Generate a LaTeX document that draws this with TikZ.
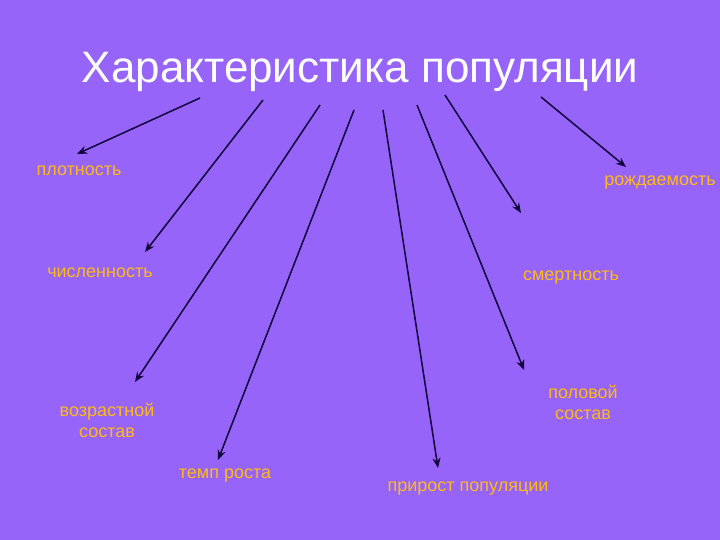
\documentclass[tikz,border=0pt]{standalone}
\usepackage{fontspec}
\setmainfont{Liberation Sans}
\usetikzlibrary{arrows.meta}
\definecolor{bg}{RGB}{150,100,248}
\definecolor{lbl}{RGB}{255,185,20}
\definecolor{arr}{RGB}{20,0,60}
\begin{document}
\begin{tikzpicture}[x=1pt,y=-1pt,
  lab/.style={text=lbl,font=\fontsize{18}{21}\selectfont,inner sep=0pt,align=center},
  con/.style={draw=arr,line width=1.5pt,-{Stealth[length=10pt,width=8pt]}}]
\fill[bg] (0,0) rectangle (720,540);
\useasboundingbox (0,0) rectangle (720,540);
\node[text=white,font=\fontsize{44}{50}\selectfont,inner sep=0pt] (title) at (360,72) {Характеристика популяции};
\node[lab] (l1) at (79,171) {плотность};
\node[lab] (l2) at (660,183) {рождаемость};
\node[lab] (l3) at (100,273) {численность};
\node[lab] (l4) at (571,278) {смертность};
\node[lab] (l5) at (107,420) {возрастной\\состав};
\node[lab] (l6) at (583,402) {половой\\состав};
\node[lab] (l7) at (225,476) {темп роста};
\node[lab] (l8) at (468,489) {прирост популяции};
\coordinate (s1) at (200,98);
\coordinate (s2) at (263,100);
\coordinate (s3) at (320,105);
\coordinate (s4) at (354,110);
\coordinate (s5) at (383,110);
\coordinate (s6) at (417,105);
\coordinate (s7) at (445,95);
\coordinate (s8) at (541,97);
\coordinate (t1) at (77,154);
\coordinate (t2) at (145,252);
\coordinate (t3) at (135,382);
\coordinate (t4) at (218,460);
\coordinate (t5) at (438,468);
\coordinate (t6) at (524,370);
\coordinate (t7) at (521,213);
\coordinate (t8) at (626,167);
\draw[con] (s1) -- (t1);
\draw[con] (s2) -- (t2);
\draw[con] (s3) -- (t3);
\draw[con] (s4) -- (t4);
\draw[con] (s5) -- (t5);
\draw[con] (s6) -- (t6);
\draw[con] (s7) -- (t7);
\draw[con] (s8) -- (t8);
\end{tikzpicture}
\end{document}
